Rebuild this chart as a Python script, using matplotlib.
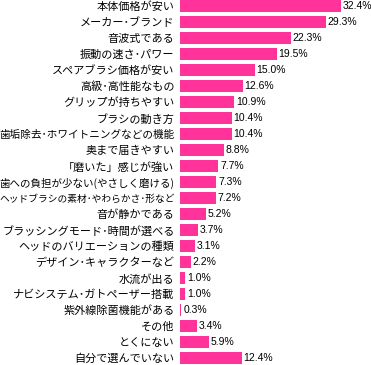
import matplotlib
matplotlib.use("Agg")
import matplotlib.pyplot as plt

plt.rcParams['font.family'] = ['Noto Sans CJK JP', 'DejaVu Sans']

categories = [
    "本体価格が安い", "メーカー･ブランド", "音波式である", "振動の速さ･パワー",
    "スペアブラシ価格が安い", "高級･高性能なもの", "グリップが持ちやすい", "ブラシの動き方",
    "歯垢除去･ホワイトニングなどの機能", "奥まで届きやすい", "「磨いた」感じが強い",
    "歯への負担が少ない(やさしく磨ける)", "ヘッドブラシの素材･やわらかさ･形など",
    "音が静かである", "ブラッシングモード･時間が選べる", "ヘッドのバリエーションの種類",
    "デザイン･キャラクターなど", "水流が出る", "ナビシステム･ガトペーザー搭載",
    "紫外線除菌機能がある", "その他", "とくにない", "自分で選んでいない",
]
values = [32.4, 29.3, 22.3, 19.5, 15.0, 12.6, 10.9, 10.4, 10.4, 8.8, 7.7, 7.3, 7.2,
          5.2, 3.7, 3.1, 2.2, 1.0, 1.0, 0.3, 3.4, 5.9, 12.4]
value_labels = [f"{v:.1f}%" for v in values]

W, H = 371, 365
fig = plt.figure(figsize=(W / 100, H / 100), dpi=100)
left = 180 / W
ax = fig.add_axes([left, 0, 1 - left, 1])
pos = list(range(len(categories)))
ax.barh(pos, values, height=0.78, color="#FF3399", edgecolor="none")
ax.set_xlim(0, (W - 180) / 4.97)
ax.set_ylim(22.44, -0.375)
for sp in ax.spines.values():
    sp.set_visible(False)
ax.set_xticks([])
ax.set_yticks(pos)
ax.set_yticklabels(categories, fontsize=8)
ax.tick_params(axis='y', length=0, pad=4)
for p, v, lab in zip(pos, values, value_labels):
    ax.text(v + 0.35, p, lab, va='center', ha='left', fontsize=7.5,
            family=['Liberation Sans', 'DejaVu Sans'])

# shrink labels that would not fit in the left margin
fig.canvas.draw()
r = fig.canvas.get_renderer()
avail = 180 - 4 - 1
for t in ax.get_yticklabels():
    w = t.get_window_extent(r).width
    if w > avail:
        t.set_fontsize(8 * avail / w)
fig.savefig("out.png", dpi=100)
